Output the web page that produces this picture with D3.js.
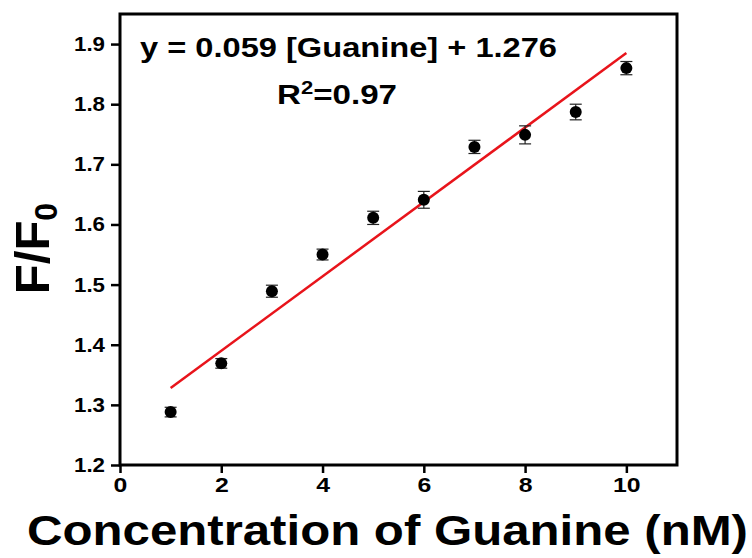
<!DOCTYPE html>
<html lang="en">
<head>
  <meta charset="utf-8">
  <script src="https://d3js.org/d3.v7.min.js"></script>
  <style>
    body { margin: 0; background: #fff; }
    svg text { font-family: Arial, "Liberation Sans", sans-serif; font-weight: bold; fill: #000; }
  </style>
</head>
<body>
  <div id="my_dataviz"></div>
  <script>
    // data
    var conc = [1, 2, 3, 4, 5, 6, 7, 8, 9, 10];
    var ratio = [1.288, 1.369, 1.489, 1.550, 1.611, 1.641, 1.729, 1.749, 1.787, 1.860];
    var errs = [0.008, 0.008, 0.010, 0.009, 0.011, 0.014, 0.011, 0.015, 0.013, 0.011];
    var fitX = [1, 10];
    var fitY = [1.328, 1.885];
    var xTicks = [0, 2, 4, 6, 8, 10];
    var yTicks = [1.2, 1.3, 1.4, 1.5, 1.6, 1.7, 1.8, 1.9];

    var margin = { top: 14, right: 75, bottom: 93, left: 120 },
      width = 752 - margin.left - margin.right,
      height = 558 - margin.top - margin.bottom;

    var svg = d3.select("#my_dataviz")
      .append("svg")
      .attr("width", 752)
      .attr("height", 558)
      .append("g")
      .attr("transform", "translate(" + margin.left + "," + margin.top + ")");

    var x = d3.scaleLinear().domain([0, 11]).range([0, width]);
    var y = d3.scaleLinear().domain([1.2, 1.95]).range([height, 0]);

    // axes
    var xAxis = svg.append("g")
      .attr("transform", "translate(0," + height + ")")
      .call(d3.axisBottom(x).tickValues(xTicks).tickSize(8).tickPadding(5).tickFormat(d3.format("d")));
    var yAxis = svg.append("g")
      .call(d3.axisLeft(y).tickValues(yTicks).tickSize(9).tickPadding(6).tickFormat(d3.format(".1f")));

    [xAxis, yAxis].forEach(function (a) {
      a.select(".domain").remove();
      a.selectAll("line").attr("stroke", "#000").attr("stroke-width", 2.5);
      a.selectAll("text").attr("font-size", 20).style("font-size", "20px")
        .style("font-family", "Arial, 'Liberation Sans', sans-serif").style("font-weight", "bold")
        .attr("lengthAdjust", "spacingAndGlyphs");
    });
    yAxis.selectAll("text").attr("textLength", 31);
    xAxis.selectAll("text").attr("textLength", function (d) { return String(d).length * 13.8; });

    // frame
    svg.append("rect")
      .attr("width", width).attr("height", height)
      .attr("fill", "none").attr("stroke", "#000").attr("stroke-width", 3);

    // fit line
    svg.append("path")
      .datum(fitX.map(function (d, i) { return [d, fitY[i]]; }))
      .attr("fill", "none").attr("stroke", "#e8141b").attr("stroke-width", 2.5)
      .attr("d", d3.line().x(function (d) { return x(d[0]); }).y(function (d) { return y(d[1]); }));

    // error bars
    var pts = conc.map(function (d, i) { return { c: d, v: ratio[i], e: errs[i] }; });
    var eb = svg.selectAll(".eb").data(pts).enter().append("g").attr("class", "eb")
      .attr("stroke", "#222").attr("stroke-width", 1.2);
    eb.append("line")
      .attr("x1", function (d) { return x(d.c); }).attr("x2", function (d) { return x(d.c); })
      .attr("y1", function (d) { return y(d.v - d.e); }).attr("y2", function (d) { return y(d.v + d.e); });
    [-1, 1].forEach(function (s) {
      eb.append("line")
        .attr("x1", function (d) { return x(d.c) - 6; }).attr("x2", function (d) { return x(d.c) + 6; })
        .attr("y1", function (d) { return y(d.v + s * d.e); }).attr("y2", function (d) { return y(d.v + s * d.e); });
    });

    // points
    svg.selectAll(".pt").data(pts).enter().append("circle").attr("class", "pt")
      .attr("cx", function (d) { return x(d.c); })
      .attr("cy", function (d) { return y(d.v); })
      .attr("r", 6).attr("fill", "#000");

    // equation
    svg.append("text").attr("x", 20).attr("y", 43).style("font-size", "27px")
      .attr("textLength", 417).attr("lengthAdjust", "spacingAndGlyphs")
      .text("y = 0.059 [Guanine] + 1.276");
    var r2 = svg.append("text").attr("x", 157).attr("y", 90).style("font-size", "27px")
      .attr("textLength", 120).attr("lengthAdjust", "spacingAndGlyphs");
    r2.append("tspan").text("R");
    r2.append("tspan").attr("dy", -10).style("font-size", "18px").text("2");
    r2.append("tspan").attr("dy", 10).text("=0.97");

    // axis titles
    svg.append("text")
      .attr("x", -93).attr("y", height + 80)
      .style("font-size", "43px")
      .attr("textLength", 721).attr("lengthAdjust", "spacingAndGlyphs")
      .text("Concentration of Guanine (nM)");

    var yl = svg.append("text")
      .attr("transform", "translate(-71," + (height / 2 + 9) + ")rotate(-90)")
      .attr("text-anchor", "middle").style("font-size", "49px");
    yl.append("tspan").text("F/F");
    yl.append("tspan").attr("dy", 8).style("font-size", "32px").text("0");
  </script>
</body>
</html>
